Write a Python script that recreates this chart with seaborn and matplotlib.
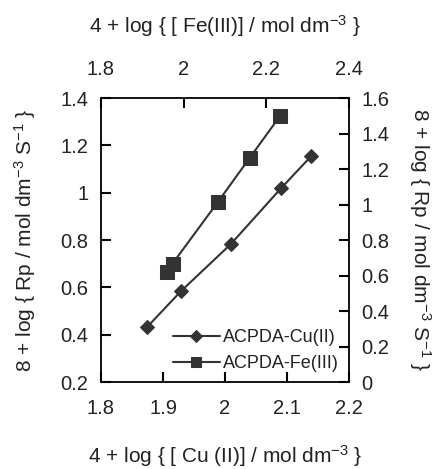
import matplotlib
matplotlib.use("Agg")
import matplotlib.pyplot as plt
import seaborn as sns
import pandas as pd

sns.set_style("ticks")
plt.rcParams['font.family'] = ['Liberation Sans', 'DejaVu Sans']
plt.rcParams['mathtext.fontset'] = 'custom'
plt.rcParams['mathtext.rm'] = 'Liberation Sans'
plt.rcParams['mathtext.it'] = 'Liberation Sans'
plt.rcParams['text.color'] = '#222222'
plt.rcParams['axes.labelcolor'] = '#222222'

# Data
cu_x = [1.874, 1.929, 2.009, 2.090, 2.139]
cu_y = [0.431, 0.584, 0.782, 1.018, 1.155]
fe_x = [1.959, 1.973, 2.082, 2.160, 2.233]
fe_y = [0.620, 0.667, 1.012, 1.264, 1.499]

bottom_ticks = [1.8, 1.9, 2.0, 2.1, 2.2]
bottom_labels = ["1.8", "1.9", "2", "2.1", "2.2"]
top_ticks = [1.8, 2.0, 2.2, 2.4]
top_labels = ["1.8", "2", "2.2", "2.4"]
left_ticks = [0.2, 0.4, 0.6, 0.8, 1.0, 1.2, 1.4]
left_labels = ["0.2", "0.4", "0.6", "0.8", "1", "1.2", "1.4"]
right_ticks = [0, 0.2, 0.4, 0.6, 0.8, 1.0, 1.2, 1.4, 1.6]
right_labels = ["0", "0.2", "0.4", "0.6", "0.8", "1", "1.2", "1.4", "1.6"]

cu_df = pd.DataFrame({"x": cu_x, "y": cu_y})
fe_df = pd.DataFrame({"x": fe_x, "y": fe_y})

color = "#333333"
fs = 14.5
lfs = 15

fig = plt.figure(figsize=(4.37, 4.69), dpi=100)
pos = [0.231, 0.1855, 0.568, 0.6055]
ax = fig.add_axes(pos)
ax2 = fig.add_axes(pos, frameon=False)

sns.lineplot(data=cu_df, x="x", y="y", ax=ax, color=color, marker="D",
             markersize=7.5, linewidth=1.5, markeredgecolor=color,
             label="ACPDA-Cu(II)", legend=False)
sns.lineplot(data=fe_df, x="x", y="y", ax=ax2, color=color, marker="s",
             markersize=9.5, linewidth=1.5, markeredgecolor=color,
             label="ACPDA-Fe(III)", legend=False)

ax.set_xlim(1.8, 2.2)
ax.set_ylim(0.2, 1.4)
ax2.set_xlim(1.8, 2.4)
ax2.set_ylim(0, 1.6)

ax.set_xticks(bottom_ticks)
ax.set_xticklabels(bottom_labels)
ax.set_yticks(left_ticks)
ax.set_yticklabels(left_labels)
ax2.set_xticks(top_ticks)
ax2.set_xticklabels(top_labels)
ax2.set_yticks(right_ticks)
ax2.set_yticklabels(right_labels)

ax2.xaxis.tick_top()
ax2.xaxis.set_label_position("top")
ax2.yaxis.tick_right()
ax2.yaxis.set_label_position("right")

for s in ax.spines.values():
    s.set_color("black")
    s.set_linewidth(1.3)

ax.set_xlabel(r"4 + log { [ Cu (II)] / mol dm$^{-3}$ }", fontsize=lfs, labelpad=18)
ax.set_ylabel(r"8 + log { Rp / mol dm$^{-3}$ S$^{-1}$ }", fontsize=lfs, labelpad=16)
ax2.set_xlabel(r"4 + log { [ Fe(III)] / mol dm$^{-3}$ }", fontsize=lfs, labelpad=19)
ax2.set_ylabel(r"8 + log { Rp / mol dm$^{-3}$ S$^{-1}$ }", fontsize=lfs,
               rotation=-90, labelpad=31)

h1, l1 = ax.get_legend_handles_labels()
h2, l2 = ax2.get_legend_handles_labels()
leg = ax2.legend(h1 + h2, l1 + l2, loc="lower right", frameon=False,
                 fontsize=fs - 1.5, handlelength=2.6, handletextpad=0.2,
                 labelspacing=0.5, borderaxespad=0.15, markerscale=0.75,
                 bbox_to_anchor=(1.0, 0.0))

# tick styling last
ax.tick_params(axis="x", direction="in", length=7, width=1.5, color="black",
               bottom=True, top=False)
ax.tick_params(axis="y", direction="in", length=7, width=1.5, color="black",
               left=True, right=False)
ax2.tick_params(axis="x", direction="in", length=7, width=1.5, color="black",
                bottom=False, top=True)
ax2.tick_params(axis="y", direction="in", length=7, width=1.5, color="black",
                left=False, right=True)
ax.tick_params(axis="x", pad=12, labelsize=fs, labelcolor="#222222")
ax.tick_params(axis="y", pad=9, labelsize=fs, labelcolor="#222222")
ax2.tick_params(axis="x", pad=14, labelsize=fs, labelcolor="#222222")
ax2.tick_params(axis="y", pad=9, labelsize=fs, labelcolor="#222222")

fig.savefig("out.png", dpi=100)
